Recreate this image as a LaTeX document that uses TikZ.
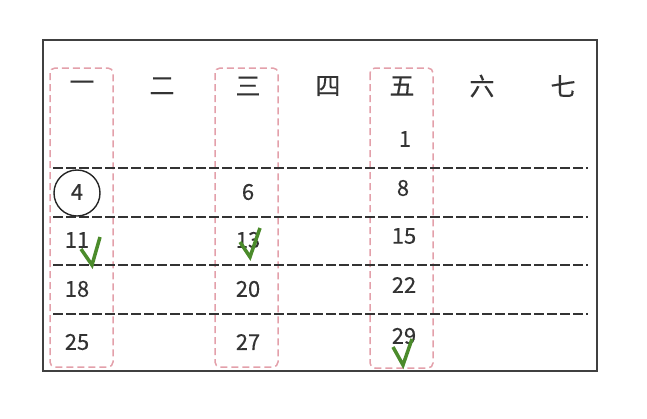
\documentclass[tikz,border=0pt]{standalone}
\usepackage{fontspec}
\setmainfont{Noto Sans CJK SC}[FakeBold=0.3]
\begin{document}
\begin{tikzpicture}[x=1bp,y=-1bp,
  txt/.style={text=black!80, font=\fontsize{22}{22}\selectfont, inner sep=0pt},
  hdr/.style={text=black!80, font=\fontsize{25}{25}\selectfont, inner sep=0pt},
  rowline/.style={draw=black!80, line width=1.4bp, dash pattern=on 10bp off 3bp},
  colbox/.style={draw=pinkline, line width=1.5bp, dash pattern=on 7bp off 4bp, rounded corners=5bp},
  tick/.style={draw=tickgreen, line width=3.5bp, line join=miter},
]
\definecolor{pinkline}{HTML}{E3A0AA}
\definecolor{tickgreen}{HTML}{4B8B2B}
\useasboundingbox (0,0) rectangle (647,418);
\draw[black!75, line width=1.5bp] (43,40) rectangle (597,371);
% column highlight boxes
\draw[colbox] (50,68) rectangle (113,367);
\draw[colbox] (215,68) rectangle (278,367);
\draw[colbox] (370,68) rectangle (433,368);
% row separators
\foreach \y in {168,217,265,314} \draw[rowline] (53,\y) -- (588,\y);
% headers
\node[hdr] (h1) at (82,86) {一};
\node[hdr] (h2) at (162,86) {二};
\node[hdr] (h3) at (248,86) {三};
\node[hdr] (h4) at (328,86) {四};
\node[hdr] (h5) at (402,86) {五};
\node[hdr] (h6) at (482,86) {六};
\node[hdr] (h7) at (563,86) {七};
% dates
\node[txt] (d1) at (405,139) {1};
\node[txt] (d4) at (77,192) {4};
\node[draw=black!85, line width=1.4bp, circle, minimum size=46bp] (c4) at (77,193) {};
\node[txt] (d6) at (248,192) {6};
\node[txt] (d8) at (403,188) {8};
\node[txt] (d11) at (77,240) {11};
\node[txt] (d13) at (248,240) {13};
\node[txt] (d15) at (404,236) {15};
\node[txt] (d18) at (77,289) {18};
\node[txt] (d20) at (248,289) {20};
\node[txt] (d22) at (404,285) {22};
\node[txt] (d25) at (77,342) {25};
\node[txt] (d27) at (248,342) {27};
\node[txt] (d29) at (404,336) {29};
% ticks
\draw[tick] (81,249) -- (92,265) -- (100,237);
\draw[tick] (240,242) -- (250,257) -- (260,228);
\draw[tick] (393,347) -- (403,365) -- (412,339);
\end{tikzpicture}
\end{document}
